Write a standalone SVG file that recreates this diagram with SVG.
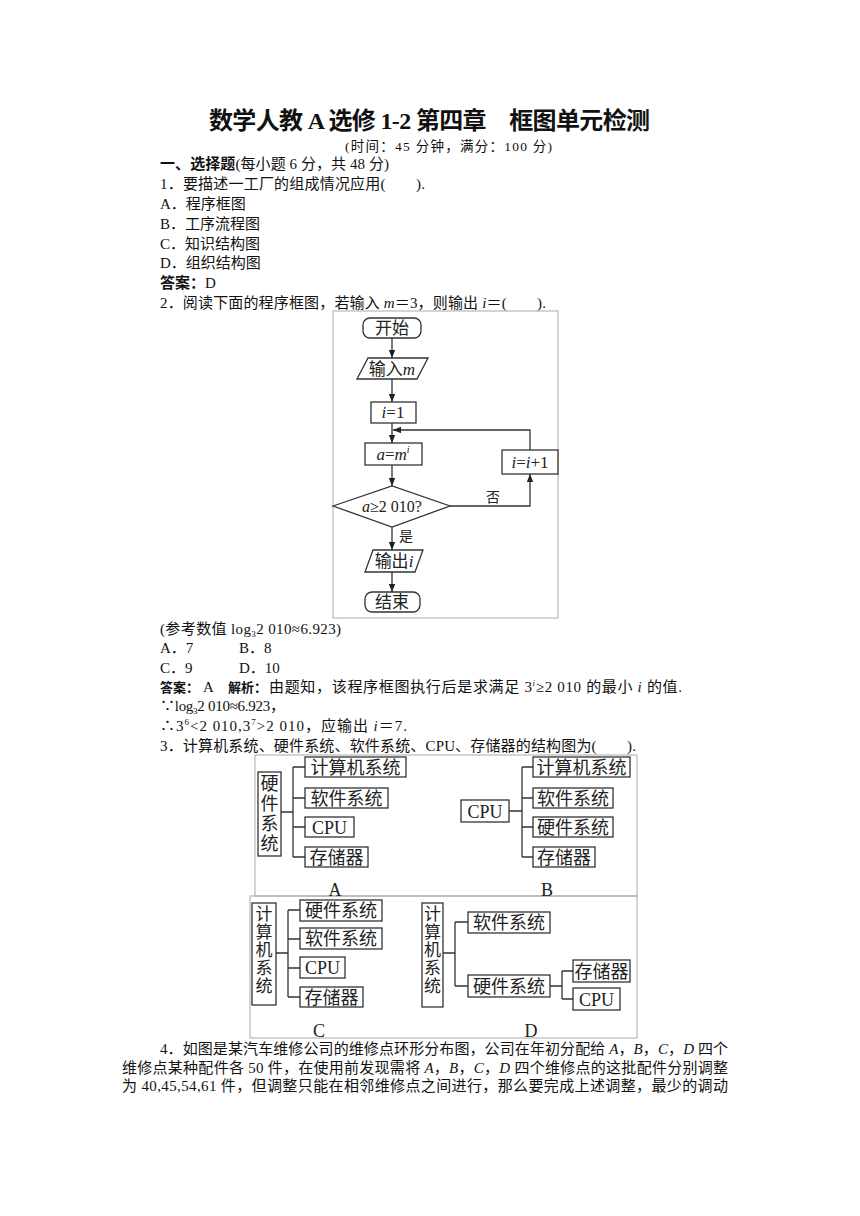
<svg xmlns="http://www.w3.org/2000/svg" width="860" height="1216" viewBox="0 0 860 1216">
<defs>
<marker id="ah" viewBox="0 0 10 8" refX="10" refY="4" markerWidth="8" markerHeight="6.4" markerUnits="userSpaceOnUse" orient="auto">
<path d="M0,0 L10,4 L0,8 Z" fill="#222"/>
</marker>
<style>
.t{font-family:"Liberation Serif","Noto Sans CJK SC",serif;font-size:15px;fill:#111}
.b{font-weight:bold;font-family:"Noto Sans CJK SC",sans-serif}
.bs{font-weight:bold;font-family:"Noto Sans CJK SC",sans-serif;font-size:13px;fill:#111}
.it{font-style:italic}
.fc{font-family:"Liberation Serif","Noto Sans CJK SC",serif;font-size:17px;fill:#222;text-anchor:middle}
.sd{font-family:"Liberation Serif","Noto Sans CJK SC",serif;font-size:18px;fill:#222;text-anchor:middle}
.box{fill:#fff;stroke:#333;stroke-width:1.3}
.ln{fill:none;stroke:#333;stroke-width:1.3}
.fr{fill:none;stroke:#aaa;stroke-width:1}
</style>
</defs>
<rect width="860" height="1216" fill="#fff"/>

<g id="header">
<text x="209" y="129" font-family="Liberation Serif,Noto Sans CJK SC,serif" font-size="24" font-weight="bold" fill="#111" textLength="441" lengthAdjust="spacing">数学人教 A 选修 1-2 第四章　框图单元检测</text>
<text x="345" y="151" class="t" textLength="207" lengthAdjust="spacing" style="font-size:13.5px">(时间：45 分钟，满分：100 分)</text>
</g>

<g id="q1">
<text x="160" y="169" class="t" textLength="229" lengthAdjust="spacing"><tspan class="b">一、选择题</tspan>(每小题 6 分，共 48 分)</text>
<text x="160" y="189" class="t" textLength="265" lengthAdjust="spacing">1．要描述一工厂的组成情况应用(　　).</text>
<text x="160" y="209" class="t">A．程序框图</text>
<text x="160" y="229" class="t">B．工序流程图</text>
<text x="160" y="249" class="t">C．知识结构图</text>
<text x="160" y="268" class="t">D．组织结构图</text>
<text x="160" y="288" class="t"><tspan class="b">答案：</tspan>D</text>
<text x="160" y="308" class="t" textLength="386" lengthAdjust="spacing">2．阅读下面的程序框图，若输入 <tspan class="it">m</tspan>＝3，则输出 <tspan class="it">i</tspan>＝(　　).</text>
</g>

<g id="flowchart">
<rect x="333" y="311" width="225" height="307" class="fr"/>
<g id="fc-start"><rect x="363" y="318" width="58" height="20" rx="7" class="box"/><text x="392" y="334" class="fc">开始</text></g>
<g id="fc-input"><polygon points="368,358 428,358 417,379 357,379" class="box"/><text x="392" y="375" class="fc">输入<tspan class="it">m</tspan></text></g>
<g id="fc-init"><rect x="371" y="402" width="45" height="21" class="box"/><text x="393" y="418" class="fc"><tspan class="it">i</tspan>=1</text></g>
<g id="fc-calc"><rect x="365" y="443" width="57" height="22" class="box"/><text x="393" y="460" class="fc"><tspan class="it">a</tspan>=<tspan class="it">m</tspan><tspan class="it" font-size="10" dy="-7">i</tspan></text></g>
<g id="fc-inc"><rect x="502" y="450" width="56" height="24" class="box"/><text x="530" y="468" class="fc"><tspan class="it">i</tspan>=<tspan class="it">i</tspan>+1</text></g>
<g id="fc-cond"><polygon points="333,506 392,486 450,506 392,527" class="box"/><text x="392" y="512" class="fc" style="font-size:16px"><tspan class="it">a</tspan>≥2 010?</text></g>
<g id="fc-output"><polygon points="373,550 423,550 415,572 365,572" class="box"/><text x="394" y="567" class="fc">输出<tspan class="it">i</tspan></text></g>
<g id="fc-end"><rect x="365" y="592" width="55" height="20" rx="7" class="box"/><text x="392" y="608" class="fc">结束</text></g>
</g>

<g id="fc-connectors">
<line x1="392" y1="338" x2="392" y2="358" class="ln" marker-end="url(#ah)"/>
<line x1="392" y1="379" x2="392" y2="402" class="ln" marker-end="url(#ah)"/>
<line x1="392" y1="423" x2="392" y2="443" class="ln" marker-end="url(#ah)"/>
<line x1="392" y1="465" x2="392" y2="486" class="ln" marker-end="url(#ah)"/>
<line x1="392" y1="527" x2="392" y2="550" class="ln" marker-end="url(#ah)"/>
<line x1="392" y1="572" x2="392" y2="592" class="ln" marker-end="url(#ah)"/>
<polyline points="450,506 530,506 530,474" class="ln" marker-end="url(#ah)"/>
<polyline points="530,450 530,430 393,430" class="ln" marker-end="url(#ah)"/>
<text x="493" y="502" class="fc" style="font-size:14px">否</text>
<text x="406" y="541" class="fc" style="font-size:14px">是</text>
</g>

<g id="q2-answer">
<text x="160" y="634" class="t" textLength="181" lengthAdjust="spacing">(参考数值 log<tspan font-size="9" dy="3">3</tspan><tspan dy="-3">2 010≈6.923)</tspan></text>
<text x="160" y="653" class="t">A．7</text>
<text x="239" y="653" class="t">B．8</text>
<text x="160" y="673" class="t">C．9</text>
<text x="239" y="673" class="t">D．10</text>
<text x="160" y="692" class="bs">答案：</text>
<text x="203" y="692" class="t">A</text>
<text x="228" y="692" class="bs">解析：</text>
<text x="269" y="692" class="t" textLength="413" lengthAdjust="spacing">由题知，该程序框图执行后是求满足 3<tspan class="it" font-size="9" dy="-6">i</tspan><tspan dy="6">≥2 010 的最小 </tspan><tspan class="it">i</tspan> 的值.</text>
<text x="160" y="711" class="t" textLength="125" lengthAdjust="spacing">∵log<tspan font-size="9" dy="3">3</tspan><tspan dy="-3">2 010≈6.923，</tspan></text>
<text x="160" y="731" class="t" textLength="247" lengthAdjust="spacing">∴3<tspan font-size="9" dy="-6">6</tspan><tspan dy="6">&lt;2 010,3</tspan><tspan font-size="9" dy="-6">7</tspan><tspan dy="6">&gt;2 010，应输出 </tspan><tspan class="it">i</tspan>＝7.</text>
<text x="160" y="751" class="t" textLength="476" lengthAdjust="spacing">3．计算机系统、硬件系统、软件系统、CPU、存储器的结构图为(　　).</text>
</g>

<g id="frames">
<rect x="255" y="755" width="382" height="141" class="fr"/>
<rect x="250" y="896" width="387" height="142" class="fr"/>
</g>

<g id="diagram-A">
<rect x="258" y="772" width="23" height="84" class="box"/>
<text x="269.5" y="790" class="sd">硬</text><text x="269.5" y="810" class="sd">件</text><text x="269.5" y="830" class="sd">系</text><text x="269.5" y="850" class="sd">统</text>
<rect x="305" y="757" width="101" height="20" class="box"/><text x="355.5" y="773.5" class="sd">计算机系统</text>
<rect x="305" y="788" width="83" height="20" class="box"/><text x="346.5" y="804.5" class="sd">软件系统</text>
<rect x="305" y="817" width="49" height="20" class="box"/><text x="329.5" y="833.5" class="sd">CPU</text>
<rect x="305" y="847" width="63" height="20" class="box"/><text x="336.5" y="863.5" class="sd">存储器</text>
<text x="335" y="896" class="sd">A</text>
</g>

<g id="diagram-B">
<rect x="461" y="800" width="48" height="22" class="box"/><text x="485" y="817.5" class="sd">CPU</text>
<rect x="533" y="757" width="97" height="20" class="box"/><text x="581.5" y="773.5" class="sd">计算机系统</text>
<rect x="533" y="788" width="80" height="20" class="box"/><text x="573" y="804.5" class="sd">软件系统</text>
<rect x="533" y="817" width="80" height="20" class="box"/><text x="573" y="833.5" class="sd">硬件系统</text>
<rect x="533" y="847" width="62" height="20" class="box"/><text x="564" y="863.5" class="sd">存储器</text>
<text x="547" y="896" class="sd">B</text>
</g>

<g id="diagram-C">
<rect x="252" y="903" width="24" height="102" class="box"/>
<text x="264" y="920" class="sd" style="font-size:17px">计</text><text x="264" y="938" class="sd" style="font-size:17px">算</text><text x="264" y="956" class="sd" style="font-size:17px">机</text><text x="264" y="974" class="sd" style="font-size:17px">系</text><text x="264" y="992" class="sd" style="font-size:17px">统</text>
<rect x="300" y="900" width="82" height="21" class="box"/><text x="341" y="917" class="sd">硬件系统</text>
<rect x="300" y="928" width="82" height="21" class="box"/><text x="341" y="945" class="sd">软件系统</text>
<rect x="300" y="957" width="45" height="21" class="box"/><text x="322.5" y="974" class="sd">CPU</text>
<rect x="300" y="987" width="63" height="20" class="box"/><text x="331.5" y="1003.5" class="sd">存储器</text>
<text x="319" y="1037" class="sd">C</text>
</g>

<g id="diagram-D">
<rect x="422" y="903" width="21" height="104" class="box"/>
<text x="432.5" y="920" class="sd" style="font-size:17px">计</text><text x="432.5" y="938" class="sd" style="font-size:17px">算</text><text x="432.5" y="956" class="sd" style="font-size:17px">机</text><text x="432.5" y="974" class="sd" style="font-size:17px">系</text><text x="432.5" y="992" class="sd" style="font-size:17px">统</text>
<rect x="468" y="912" width="82" height="21" class="box"/><text x="509" y="929" class="sd">软件系统</text>
<rect x="468" y="975" width="82" height="22" class="box"/><text x="509" y="992.5" class="sd">硬件系统</text>
<rect x="573" y="960" width="57" height="22" class="box"/><text x="601.5" y="977.5" class="sd">存储器</text>
<rect x="573" y="988" width="47" height="22" class="box"/><text x="596.5" y="1005.5" class="sd">CPU</text>
<text x="531" y="1037" class="sd">D</text>
</g>

<g id="structure-connectors">
<path class="ln" d="M281,812 H293 M293,767 V857 M293,767 H305 M293,798 H305 M293,827 H305 M293,857 H305"/>
<path class="ln" d="M509,811 H522 M522,767 V857 M522,767 H533 M522,798 H533 M522,827 H533 M522,857 H533"/>
<path class="ln" d="M276,953 H288 M288,910 V997 M288,910 H300 M288,939 H300 M288,968 H300 M288,997 H300"/>
<path class="ln" d="M443,953 H455 M455,922 V986 M455,922 H468 M455,986 H468 M550,986 H562 M562,971 V999 M562,971 H573 M562,999 H573"/>
</g>

<g id="q4">
<text x="160" y="1054" class="t" textLength="568" lengthAdjust="spacing">4．如图是某汽车维修公司的维修点环形分布图，公司在年初分配给 <tspan class="it">A</tspan>，<tspan class="it">B</tspan>，<tspan class="it">C</tspan>，<tspan class="it">D</tspan> 四个</text>
<text x="122" y="1073" class="t" textLength="606" lengthAdjust="spacing">维修点某种配件各 50 件，在使用前发现需将 <tspan class="it">A</tspan>，<tspan class="it">B</tspan>，<tspan class="it">C</tspan>，<tspan class="it">D</tspan> 四个维修点的这批配件分别调整</text>
<text x="122" y="1091" class="t" textLength="606" lengthAdjust="spacing">为 40,45,54,61 件，但调整只能在相邻维修点之间进行，那么要完成上述调整，最少的调动</text>
</g>
</svg>
